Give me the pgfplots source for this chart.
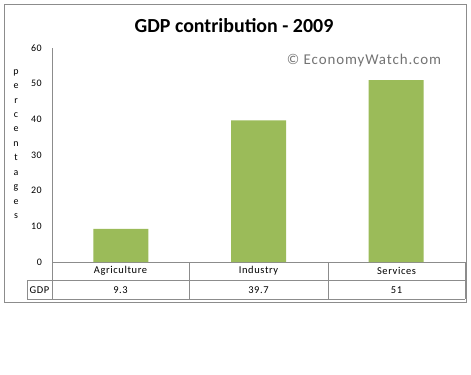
\documentclass[border=0pt]{standalone}
\usepackage{pgfplots}
\pgfplotsset{compat=1.18}
\usepackage{fontspec}
\setmainfont{Carlito}
\newfontfamily\spaced[LetterSpace=6]{Carlito}
\definecolor{barc}{HTML}{9BBB59}
\definecolor{framec}{HTML}{8C8C8C}
\begin{document}
\begin{tikzpicture}
\begin{scope}[x=1bp,y=-1bp]
\path[use as bounding box] (0,0) rectangle (471,374);
\fill[white] (0,0) rectangle (471,374);
\draw[framec, line width=0.9bp] (4,4) rectangle (466,302);
\node[font=\bfseries\fontsize{20}{24}\selectfont] at (234,26) {GDP contribution - 2009};
\node[text=black!55, font=\spaced\fontsize{15}{18}\selectfont] at (364,61) {\textcopyright{} EconomyWatch.com};
\node[align=center, font=\spaced\fontsize{10}{14.5}\selectfont] at (16,144) {p\\e\\r\\c\\e\\n\\t\\a\\g\\e\\s};
% data table grid
\draw[framec, line width=0.7bp] (52,262) -- (465,262);
\draw[framec, line width=0.7bp] (27,280.5) -- (465,280.5);
\draw[framec, line width=0.7bp] (27,299) -- (465,299);
\draw[framec, line width=0.7bp] (27,280.5) -- (27,299);
\draw[framec, line width=0.7bp] (52,262) -- (52,299);
\draw[framec, line width=0.7bp] (189,262) -- (189,299);
\draw[framec, line width=0.7bp] (328,262) -- (328,299);
\draw[framec, line width=0.7bp] (465,262) -- (465,299);
\begin{scope}[every node/.style={font=\spaced\fontsize{10.5}{12}\selectfont, inner sep=0pt}]
\node at (120.5,270.7) {Agriculture};
\node at (258.5,270.7) {Industry};
\node at (396.5,270.7) {Services};
\node at (39.5,290) {GDP};
\node at (120.5,290) {9.3};
\node at (258.5,290) {39.7};
\node at (396.5,290) {51};
\end{scope}
\end{scope}
\begin{axis}[
  at={(52bp,-262bp)}, anchor=south west,
  scale only axis, width=413bp, height=214bp,
  xmin=0, xmax=3, ymin=0, ymax=60,
  axis x line=none,
  axis y line=left,
  y axis line style={-, draw=framec, line width=0.7bp},
  ytick={0,10,...,60}, xtick=\empty,
  major tick length=0pt,
  /pgf/number format/assume math mode=true,
  yticklabel style={font=\spaced\fontsize{10}{11}\selectfont, inner sep=0pt, xshift=-10bp},
  clip=false,
]
\addplot[ybar, fill=barc, draw=none, bar width=55bp] coordinates {(0.5,9.3) (1.5,39.7) (2.5,51)};
\end{axis}
\end{tikzpicture}
\end{document}
